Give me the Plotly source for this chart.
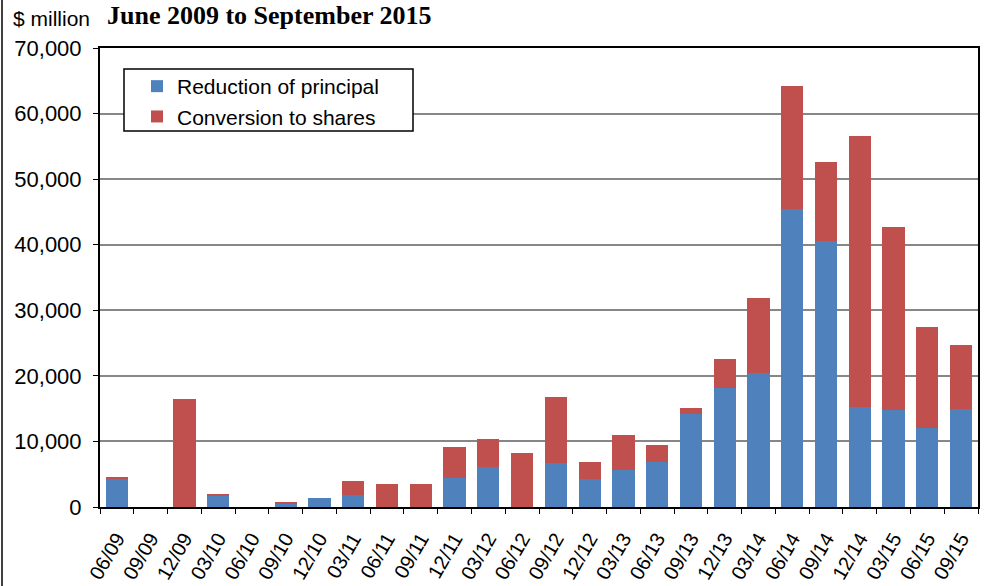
import plotly.graph_objects as go

quarters = ["06/09", "09/09", "12/09", "03/10", "06/10", "09/10", "12/10", "03/11", "06/11", "09/11",
            "12/11", "03/12", "06/12", "09/12", "12/12", "03/13", "06/13", "09/13", "12/13", "03/14",
            "06/14", "09/14", "12/14", "03/15", "06/15", "09/15"]
reduction = [4300, 0, 0, 1650, 0, 600, 1400, 1900, 0, 0,
             4350, 6130, 0, 6740, 4300, 5670, 6890, 14200, 18130, 20430,
             45430, 40580, 15220, 14810, 12100, 14960]
conversion = [300, 0, 16400, 400, 0, 100, 0, 2100, 3540, 3580,
              4830, 4310, 8300, 10000, 2590, 5330, 2490, 970, 4490, 11370,
              18840, 12050, 41390, 27920, 15310, 9800]
yticks = [0, 10000, 20000, 30000, 40000, 50000, 60000, 70000]
ytick_text = ["0", "10,000", "20,000", "30,000", "40,000", "50,000", "60,000", "70,000"]

# pixel helpers (plot area 100..978 x 48..507)
def px(x):
    return (x - 100) / 878.0

def py(y):
    return (507 - y) / 459.0

fig = go.Figure()
fig.add_trace(go.Bar(x=quarters, y=reduction, name="Reduction of principal",
                     marker=dict(color="#4F81BD", line=dict(width=0))))
fig.add_trace(go.Bar(x=quarters, y=conversion, name="Conversion to shares",
                     marker=dict(color="#C0504D", line=dict(width=0))))

fig.update_layout(
    width=985, height=586,
    margin=dict(l=100, r=7, t=48, b=79, autoexpand=False),
    barmode="stack", bargap=0.34,
    plot_bgcolor="white", paper_bgcolor="white",
    font=dict(family="Liberation Sans, Arial", size=21, color="black"),
    showlegend=True,
    legend=dict(x=px(137), y=py(66), xanchor="left", yanchor="top",
                borderwidth=0, bgcolor="rgba(0,0,0,0)",
                font=dict(size=21), traceorder="normal", itemwidth=30),
    xaxis=dict(type="category", tickangle=-60, ticks="outside", ticklen=5,
               tickcolor="black", tickson="boundaries", showline=True, linecolor="black",
               linewidth=2, mirror=True, tickfont=dict(size=20), ticklabelstandoff=10),
    yaxis=dict(range=[0, 70000], tickvals=yticks, ticktext=ytick_text, ticks="outside",
               ticklen=5, tickcolor="black", showgrid=True, gridcolor="#878787", gridwidth=2,
               showline=True, linecolor="black", linewidth=2, mirror=True,
               tickfont=dict(size=22), zeroline=False, ticklabelstandoff=7),
    annotations=[
        dict(text="<b>June 2009 to September 2015</b>", xref="paper", yref="paper",
             x=px(105), y=py(-1), xanchor="left", yanchor="top", showarrow=False,
             font=dict(family="Liberation Serif, Times New Roman", size=26)),
        dict(text="$ million", xref="paper", yref="paper", x=px(11), y=py(19),
             xanchor="left", yanchor="middle", showarrow=False, font=dict(size=21)),
    ],
    shapes=[
        dict(type="line", xref="paper", yref="paper", x0=px(2), x1=px(2),
             y0=py(600), y1=py(-10), line=dict(color="black", width=1.5)),
        dict(type="rect", xref="paper", yref="paper", x0=px(124), x1=px(413),
             y0=py(131), y1=py(69), fillcolor="white", layer="above",
             line=dict(color="black", width=1.5)),
    ],
)

fig.write_html("out.html", config={"displayModeBar": False},
               post_script="document.body.style.margin='0px';")
